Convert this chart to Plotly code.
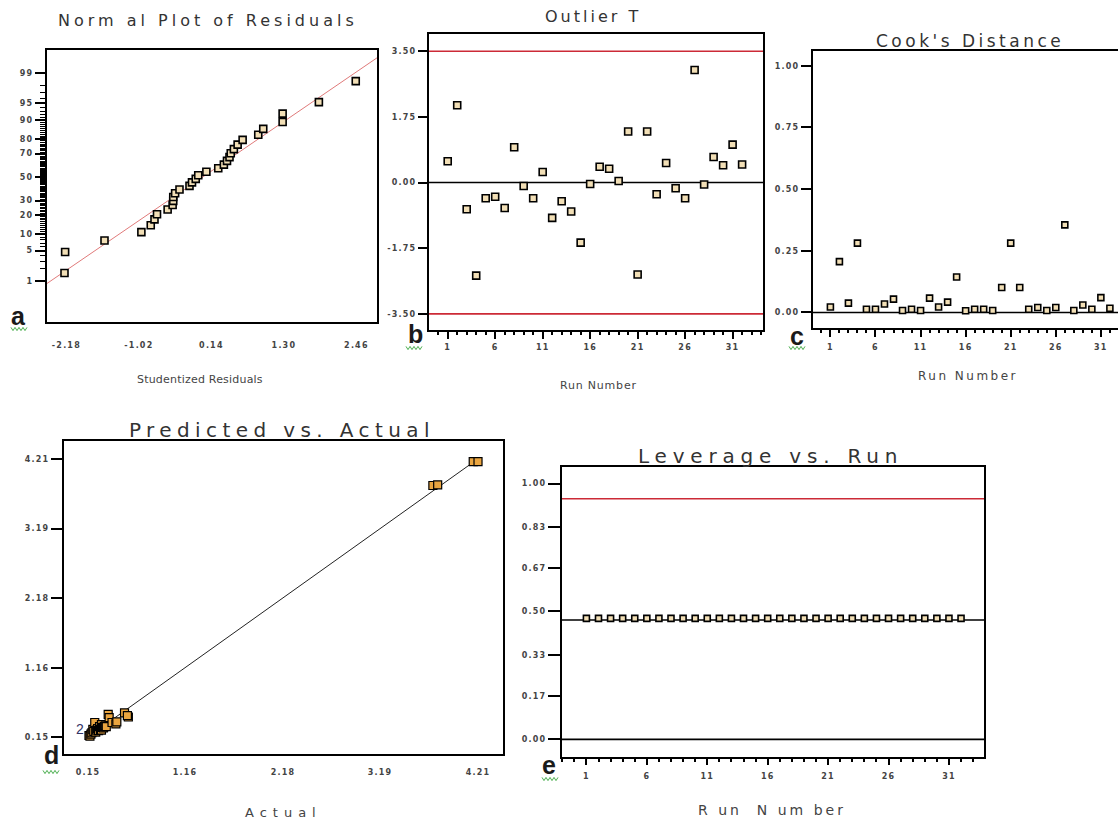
import plotly.graph_objects as go
from statistics import NormalDist

# ---------------- data ----------------
# (a) normal plot of residuals: studentized residuals (sorted) and normal % probability
normal_resid = [-2.21, -2.20, -1.57, -0.98, -0.83, -0.77, -0.73, -0.56,
                -0.48, -0.47, -0.47, -0.44, -0.37, -0.21, -0.17, -0.11,
                -0.07, 0.06, 0.25, 0.34, 0.39, 0.43, 0.45, 0.50,
                0.56, 0.64, 0.89, 0.97, 1.28, 1.28, 1.86, 2.45]
normal_pct = [1.6, 4.7, 7.8, 10.9, 14.1, 17.2, 20.3, 23.4,
              26.6, 29.7, 32.8, 35.9, 39.1, 42.2, 45.3, 48.4,
              51.6, 54.7, 57.8, 60.9, 64.1, 67.2, 70.3, 73.4,
              76.6, 79.7, 82.8, 85.9, 89.1, 92.2, 95.3, 98.4]
normal_line_resid = [-2.6, 2.9]
normal_line_pct = [0.65, 99.72]
normal_xtick_vals = [-2.18, -1.02, 0.14, 1.30, 2.46]
normal_xtick_text = ["-2.18", "-1.02", "0.14", "1.30", "2.46"]
normal_ytick_pct = [1, 5, 10, 20, 30, 50, 70, 80, 90, 95, 99]

# (b) outlier T by run
runs = list(range(1, 33))
outlier_t = [0.57, 2.06, -0.71, -2.48, -0.42, -0.38, -0.68, 0.94,
             -0.09, -0.42, 0.28, -0.94, -0.50, -0.77, -1.60, -0.04,
             0.42, 0.37, 0.04, 1.36, -2.45, 1.36, -0.31, 0.52,
             -0.15, -0.42, 3.00, -0.05, 0.68, 0.46, 1.01, 0.48]
outlier_limits = [-3.50, 3.50]
outlier_ticks = [-3.50, -1.75, 0.00, 1.75, 3.50]

# (c) Cook's distance by run
cooks = [0.022, 0.206, 0.038, 0.281, 0.013, 0.013, 0.034, 0.054,
         0.008, 0.013, 0.008, 0.058, 0.022, 0.042, 0.144, 0.007,
         0.013, 0.013, 0.008, 0.101, 0.281, 0.101, 0.013, 0.020,
         0.008, 0.020, 0.355, 0.008, 0.030, 0.013, 0.060, 0.017]
cooks_ticks = [0.00, 0.25, 0.50, 0.75, 1.00]

# (d) predicted vs actual
actual = [0.16, 0.17, 0.18, 0.19, 0.20, 0.21, 0.22, 0.23,
          0.24, 0.25, 0.26, 0.27, 0.28, 0.29, 0.29, 0.30,
          0.31, 0.32, 0.33, 0.34, 0.36, 0.37, 0.40, 0.44,
          0.45, 0.53, 0.57, 0.56, 3.74, 3.79, 4.16, 4.21]
predicted = [0.17, 0.16, 0.19, 0.21, 0.26, 0.23, 0.36, 0.22,
             0.25, 0.27, 0.24, 0.30, 0.26, 0.33, 0.25, 0.29,
             0.28, 0.30, 0.31, 0.30, 0.48, 0.43, 0.36, 0.34,
             0.37, 0.50, 0.44, 0.46, 3.82, 3.83, 4.17, 4.17]
pva_line = [0.15, 4.21]
pva_ticks = [0.15, 1.16, 2.18, 3.19, 4.21]

# (e) leverage by run
leverage = [0.473, 0.473, 0.473, 0.473, 0.473, 0.473, 0.473, 0.473,
            0.473, 0.473, 0.473, 0.473, 0.473, 0.473, 0.473, 0.473,
            0.473, 0.473, 0.473, 0.473, 0.473, 0.473, 0.473, 0.473,
            0.473, 0.473, 0.473, 0.473, 0.473, 0.473, 0.473, 0.473]
leverage_avg = 0.467
leverage_limit = 0.941
leverage_ticks = [0.00, 0.17, 0.33, 0.50, 0.67, 0.83, 1.00]

# ---------------- helpers ----------------
W, H = 1118, 820
def px(x):
    return x / W
def py(y):
    return 1 - y / H

nd = NormalDist()
def probit(p):
    return nd.inv_cdf(p / 100.0)

def sp(text, ls):
    return f'<span style="letter-spacing:{ls}px">{text}</span>'

def tt(vals, fmt="{:.2f}", ls=1.2):
    return [sp(fmt.format(v), ls) for v in vals]

FONT = "DejaVu Sans, Liberation Sans, Arial, sans-serif"
TICKFONT = dict(family=FONT, size=8, color="#444444", weight="bold")
MARK = dict(symbol="square", size=7, color="#f2dfb6", line=dict(color="black", width=1.6))

fig = go.Figure()

# (a)
fig.add_trace(go.Scatter(x=normal_line_resid, y=[probit(p) for p in normal_line_pct],
                         mode="lines", line=dict(color="#e07a7a", width=1),
                         xaxis="x", yaxis="y", showlegend=False, hoverinfo="skip"))
fig.add_trace(go.Scatter(x=normal_resid, y=[probit(p) for p in normal_pct], mode="markers",
                         marker=MARK, xaxis="x", yaxis="y", showlegend=False))
# (b)
fig.add_trace(go.Scatter(x=runs, y=outlier_t, mode="markers", marker=MARK,
                         xaxis="x2", yaxis="y2", showlegend=False))
# (c)
fig.add_trace(go.Scatter(x=runs, y=cooks, mode="markers",
                         marker=dict(MARK, size=6),
                         xaxis="x3", yaxis="y3", showlegend=False))
# (d)
fig.add_trace(go.Scatter(x=pva_line, y=pva_line, mode="lines",
                         line=dict(color="#222222", width=1),
                         xaxis="x4", yaxis="y4", showlegend=False, hoverinfo="skip"))
fig.add_trace(go.Scatter(x=actual, y=predicted, mode="markers",
                         marker=dict(symbol="square", size=8, color="#eaa540",
                                     line=dict(color="black", width=1.2)),
                         xaxis="x4", yaxis="y4", showlegend=False))
# (e)
fig.add_trace(go.Scatter(x=runs, y=leverage, mode="markers",
                         marker=dict(MARK, size=6),
                         xaxis="x5", yaxis="y5", showlegend=False))

def axis(domain, rng, **kw):
    d = dict(domain=domain, range=rng, showline=True, linecolor="black", linewidth=2,
             mirror=True, showgrid=False, zeroline=False, ticks="outside",
             tickcolor="black", tickwidth=1.5, tickfont=TICKFONT, fixedrange=True)
    d.update(kw)
    return d

# domains in pixels -> paper
dom = {
    "a": ([px(47), px(377)], [py(322), py(50)]),
    "b": ([px(429), px(763)], [py(330), py(34)]),
    "c": ([px(813), 1.0], [py(328), py(51)]),
    "d": ([px(64), px(503)], [py(754), py(441)]),
    "e": ([px(562), px(984)], [py(757), py(467)]),
}

minor_pct = [p for p in range(2, 99) if p not in normal_ytick_pct]
run_ticks = [1, 6, 11, 16, 21, 26, 31]

fig.update_layout(
    width=W, height=H, margin=dict(l=0, r=0, t=0, b=0),
    paper_bgcolor="white", plot_bgcolor="white", showlegend=False,
    xaxis=axis(dom["a"][0], [-2.49, 2.79], anchor="y", tickmode="array",
               tickvals=normal_xtick_vals, ticktext=[sp(t, 1.2) for t in normal_xtick_text],
               ticklen=14, tickcolor="rgba(0,0,0,0)"),
    yaxis=axis(dom["a"][1], [-3.24, 2.84], anchor="x", tickmode="array",
               tickvals=[probit(p) for p in normal_ytick_pct],
               ticktext=[sp(str(p), 1.2) for p in normal_ytick_pct], ticklen=10,
               minor=dict(tickvals=[probit(p) for p in minor_pct], ticklen=5,
                          ticks="outside", tickcolor="black", tickwidth=1)),
    xaxis2=axis(dom["b"][0], [-0.97, 34.2], anchor="y2", tickmode="array",
                tickvals=run_ticks, ticktext=tt(run_ticks, "{}"),
                ticklen=7, ticklabelstandoff=1,
                minor=dict(dtick=1, tick0=1, ticklen=3, ticks="outside", tickcolor="black")),
    yaxis2=axis(dom["b"][1], [-3.93, 3.96], anchor="x2", tickmode="array",
                tickvals=outlier_ticks, ticktext=tt(outlier_ticks), ticklen=9),
    xaxis3=axis(dom["c"][0], [-0.93, 32.9], anchor="y3", tickmode="array",
                tickvals=run_ticks, ticktext=tt(run_ticks, "{}"),
                ticklen=7, ticklabelstandoff=3, mirror=True,
                minor=dict(dtick=1, tick0=1, ticklen=3, ticks="outside", tickcolor="black")),
    yaxis3=axis(dom["c"][1], [-0.063, 1.06], anchor="x3", tickmode="array",
                tickvals=cooks_ticks, ticktext=tt(cooks_ticks), ticklen=10, mirror=False),
    xaxis4=axis(dom["d"][0], [-0.10, 4.47], anchor="y4", tickmode="array",
                tickvals=pva_ticks, ticktext=tt(pva_ticks), ticklen=9,
                tickcolor="rgba(0,0,0,0)"),
    yaxis4=axis(dom["d"][1], [-0.10, 4.47], anchor="x4", tickmode="array",
                tickvals=pva_ticks, ticktext=tt(pva_ticks), ticklen=11),
    xaxis5=axis(dom["e"][0], [-1.02, 33.9], anchor="y5", tickmode="array",
                tickvals=run_ticks, ticktext=tt(run_ticks, "{}"),
                ticklen=6, ticklabelstandoff=4,
                minor=dict(dtick=1, tick0=1, ticklen=3, ticks="outside", tickcolor="black")),
    yaxis5=axis(dom["e"][1], [-0.069, 1.065], anchor="x5", tickmode="array",
                tickvals=leverage_ticks, ticktext=tt(leverage_ticks), ticklen=12),
)

# reference lines
shapes = []
def hline(y, ax, color, width=1.5):
    shapes.append(dict(type="line", xref=f"x{ax} domain", yref=f"y{ax}", x0=0, x1=1,
                       y0=y, y1=y, line=dict(color=color, width=width), layer="below"))
for v in outlier_limits:
    hline(v, 2, "#cc2a36", 1.6)
hline(0, 2, "black", 1.6)
hline(0, 3, "black", 1.6)
hline(0, 5, "black", 1.6)
hline(leverage_avg, 5, "black", 1.6)
hline(leverage_limit, 5, "#cc2a36", 1.6)

# green squiggles under panel letters
def squiggle(x0, y0, width=16, teeth=4, amp=1.6):
    step = width / (teeth * 2)
    pts = []
    for i in range(teeth * 2 + 1):
        xx = x0 + i * step
        yy = y0 + (amp if i % 2 else -amp)
        pts.append(f"{px(xx):.5f},{py(yy):.5f}")
    path = "M " + " L ".join(pts)
    shapes.append(dict(type="path", xref="paper", yref="paper", path=path,
                       line=dict(color="#4caf50", width=1)))

letters = [("a", 18, 316, 11, 329), ("b", 415, 334, 406, 348), ("c", 797, 336, 789, 348),
           ("d", 51, 755, 43, 772), ("e", 549, 765, 542, 779)]
annotations = []
for t, lx, ly, sx, sy in letters:
    annotations.append(dict(text=f"<b>{t}</b>", x=px(lx), y=py(ly), xref="paper", yref="paper",
                            showarrow=False, xanchor="center", yanchor="middle",
                            font=dict(family="Liberation Sans, Arial", size=25, color="#1a1a1a")))
    squiggle(sx, sy)

def label(text, x, y, size, ls, color="#333333"):
    annotations.append(dict(text=sp(text, ls), x=px(x), y=py(y), xref="paper", yref="paper",
                            showarrow=False, xanchor="center", yanchor="middle",
                            font=dict(family=FONT, size=size, color=color)))

# titles
label("Norm al Plot of Residuals", 208, 20, 16, 4.0)
label("Outlier T", 593, 16, 16, 3.0)
label("Cook's Distance", 970, 41, 17, 3.5)
label("Predicted vs. Actual", 282, 430, 20, 5.4)
label("Leverage vs. Run", 770, 456, 20, 5.8)
# axis titles
label("Studentized Residuals", 200, 379, 11, 0.2, "#444444")
label("Run Number", 598, 385, 11, 0.8, "#444444")
label("Run Number", 968, 376, 12, 2.5, "#444444")
label("Actual", 283, 812, 13, 6.0, "#444444")
label("R un  N um ber", 772, 810, 14, 3.0, "#444444")

# overlap count label in (d)
annotations.append(dict(text="2", x=0.064, y=0.26, xref="x4", yref="y4", showarrow=False,
                        font=dict(family="Liberation Sans, Arial", size=14, color="#333366")))

fig.update_layout(shapes=shapes, annotations=annotations)
fig.write_html("out.html", config={"displayModeBar": False},
               post_script="document.body.style.margin='0px';")
